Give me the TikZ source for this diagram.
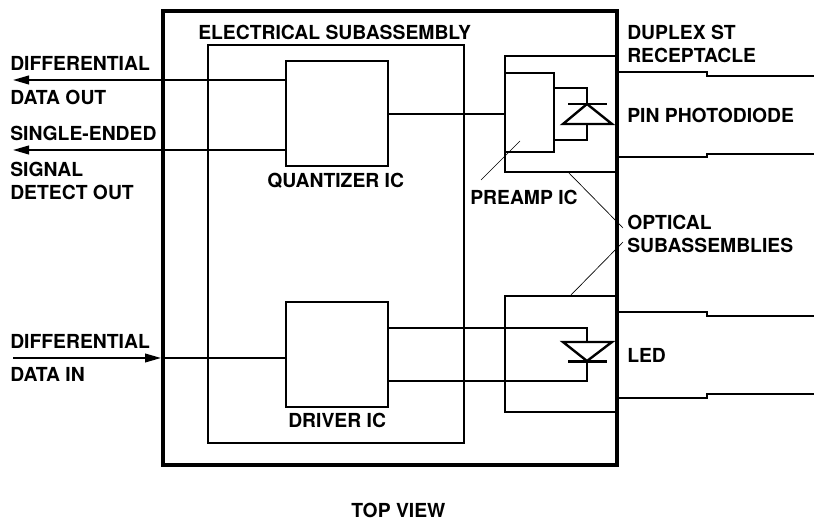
\documentclass[tikz,border=0pt]{standalone}
\usepackage{fontspec}
\setmainfont{TeX Gyre Heros}
\usetikzlibrary{arrows.meta}

\tikzset{
lbl/.style={anchor=base west, inner sep=0, xshift=-0.75pt, yshift=-0.75pt, font=\bfseries\fontsize{14.5}{17}\selectfont},
box/.style={draw, line width=1.4pt, inner sep=0, outer sep=0},
wire/.style={line width=1.4pt},
leader/.style={line width=0.5pt},
tip/.style={-{Triangle[length=12pt, width=6.5pt]}}
}

\begin{document}
\begin{tikzpicture}[x=0.75pt, y=-0.75pt]

\useasboundingbox (0, 0) rectangle (814, 523);

% boxes
\node[box, minimum width=192pt, minimum height=298.5pt] (electrical) at (336, 243.75) {};
\node[box, minimum width=76.5pt, minimum height=78.75pt] (quantizer) at (337, 113.5) {};
\node[box, minimum width=76.5pt, minimum height=78.75pt] (driver) at (337, 354.5) {};
\node[box, minimum width=84pt, minimum height=87pt] (receiver) at (561, 114) {};
\node[box, minimum width=84pt, minimum height=87pt] (emitter) at (561, 354) {};
\node[box, minimum width=36.75pt, minimum height=59.25pt] (preamp) at (529.5, 112.5) {};

% left side signals
\coordinate (dataout) at (13, 80);
\coordinate (detectout) at (13, 150);
\coordinate (datain) at (13, 358);
\coordinate (assemblyedge) at (161, 358);
\draw[wire, tip] (quantizer.west |- dataout) -- (dataout);
\draw[wire, tip] (quantizer.west |- detectout) -- (detectout);
\draw[wire, tip] (datain) -- (assemblyedge);
\draw[wire] (assemblyedge) -- (driver.west |- assemblyedge);
\draw[wire] (quantizer.east |- receiver.west) -- (preamp.west |- receiver.west);

% photodiode
\coordinate (pintop) at (587, 104);
\coordinate (pinbase) at (587, 124);
\draw[wire] (preamp.east |- 0, 88) -| (pintop);
\draw[wire] (preamp.east |- 0, 140) -| (pinbase);
\draw[line width=1.8pt] (568, 104) -- (607, 104);
\draw[line width=1.8pt, line join=miter] (pintop) -- (612, 124) -- (563, 124) -- cycle;

% led
\coordinate (ledbase) at (587, 342);
\coordinate (ledtop) at (587, 361);
\draw[wire] (driver.east |- 0, 328) -| (ledbase);
\draw[wire] (driver.east |- 0, 381) -| (ledtop);
\draw[line width=1.8pt] (568, 361.5) -- (607, 361.5);
\draw[line width=1.8pt, line join=miter] (ledtop) -- (612, 342) -- (563, 342) -- cycle;

% receptacles
\foreach \ya/\yb in {72/76, 157/154, 312/316, 398/394}
\draw[wire] (617, \ya) -- (707, \ya) -- (707, \yb) -- (814, \yb);

% leaders
\coordinate (preampend) at (520, 141);
\coordinate (preamplabel) at (481, 180);
\coordinate (opticallabela) at (623, 228);
\coordinate (opticallabelb) at (623, 242);
\draw[leader] (preampend) -- (preamplabel);
\draw[leader] (568, 172) -- (opticallabela);
\draw[leader] (570, 296) -- (opticallabelb);

\node[draw, line width=3pt, inner sep=0, outer sep=0, minimum width=340.5pt, minimum height=340.5pt] (assembly) at (390, 238) {};

% labels
\node[lbl] (difflabela) at (11, 69.5) {DIFFERENTIAL};
\node[lbl] (dataoutlabel) at (11, 104) {DATA OUT};
\node[lbl] (singlelabel) at (11, 140) {SINGLE-ENDED};
\node[lbl] (signallabel) at (11, 175.5) {SIGNAL};
\node[lbl] (detectlabel) at (11, 199) {DETECT OUT};
\node[lbl] (difflabelb) at (11, 348) {DIFFERENTIAL};
\node[lbl] (datainlabel) at (11, 381) {DATA IN};
\node[lbl] (electricallabel) at (199, 38.7) {ELECTRICAL SUBASSEMBLY};
\node[lbl] (quantizerlabel) at (268, 186.5) {QUANTIZER IC};
\node[lbl] (driverlabel) at (289, 427) {DRIVER IC};
\node[lbl] (preamplabeltext) at (471, 204) {PREAMP IC};
\node[lbl] (duplexlabel) at (628, 39) {DUPLEX ST};
\node[lbl] (receptaclelabel) at (628, 62) {RECEPTACLE};
\node[lbl] (pinlabel) at (628, 122) {PIN PHOTODIODE};
\node[lbl] (opticallabel) at (628, 228.7) {OPTICAL};
\node[lbl] (subassemblieslabel) at (628, 252) {SUBASSEMBLIES};
\node[lbl] (ledlabel) at (628, 362) {LED};
\node[lbl] (topviewlabel) at (352, 517) {TOP VIEW};

\end{tikzpicture}
\end{document}
